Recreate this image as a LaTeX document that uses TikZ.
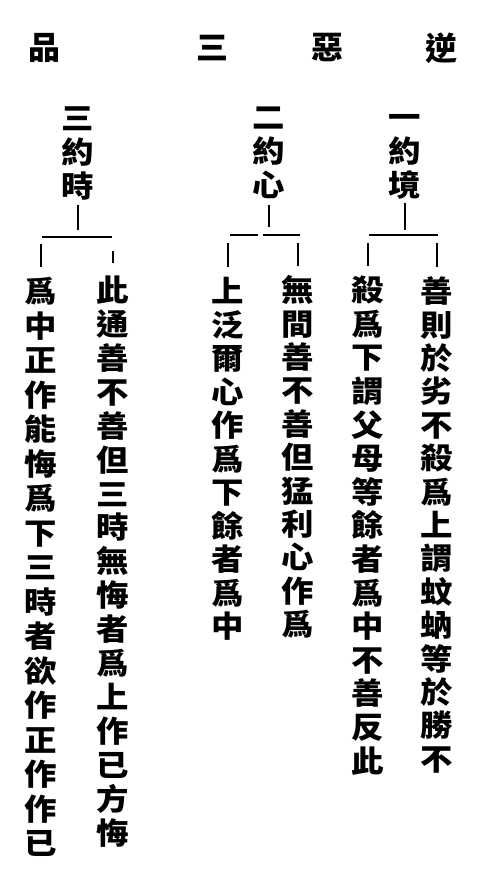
\documentclass[tikz,border=0pt]{standalone}
\usepackage{fontspec}
\newfontfamily\cjk{Noto Sans CJK TC}[FakeStretch=1.08, BoldFont={Noto Sans CJK TC Black}]
\newfontfamily\cjkt{Noto Sans CJK TC}[BoldFont={Noto Sans CJK TC Black}]
\newcommand\cjktop{\rule{0pt}{0.88em}}
\begin{document}
\begin{tikzpicture}[x=1pt,y=-1pt,
  ttl/.style={font=\cjkt\bfseries\fontsize{32}{32}\selectfont, inner sep=0pt},
  col/.style={font=\cjk\bfseries\fontsize{30}{#1}\selectfont, inner sep=0pt, anchor=north, align=center},
  col/.default=33.6,
  ln/.style={line width=1.8pt},
  bar/.style={line width=1.4pt}]
\useasboundingbox[fill=white] (0,0) rectangle (477,888);
% title
\node[ttl] (t1) at (441,48) {逆};
\node[ttl] (t2) at (327,48) {惡};
\node[ttl] (t3) at (212,48) {三};
\node[ttl] (t4) at (44,48) {品};
% headers
\node[col=34] (h1) at (405,102) {\cjktop 一\\約\\境};
\node[col=34] (h2) at (269,102) {\cjktop 二\\約\\心};
\node[col=34] (h3) at (78,103) {\cjktop 三\\約\\時};
% columns
\node[col=33.4] (cA) at (437,276) {\cjktop 善\\則\\於\\劣\\不\\殺\\爲\\上\\謂\\蚊\\蚋\\等\\於\\勝\\不};
\node[col=33.6] (cB) at (368,275) {\cjktop 殺\\爲\\下\\謂\\父\\母\\等\\餘\\者\\爲\\中\\不\\善\\反\\此};
\node[col=33.4] (cC) at (298,275) {\cjktop 無\\間\\善\\不\\善\\但\\猛\\利\\心\\作\\爲};
\node[col=33.5] (cD) at (228,276) {\cjktop 上\\泛\\爾\\心\\作\\爲\\下\\餘\\者\\爲\\中};
\node[col=33.9] (cE) at (113,275) {\cjktop 此\\通\\善\\不\\善\\但\\三\\時\\無\\悔\\者\\爲\\上\\作\\已\\方\\悔};
\node[col=34.5] (cF) at (41,276) {\cjktop 爲\\中\\正\\作\\能\\悔\\爲\\下\\三\\時\\者\\欲\\作\\正\\作\\作\\已};
% bar coordinates
\coordinate (b1L) at (369,235);
\coordinate (b1R) at (438,235);
\coordinate (b2L) at (230,235);
\coordinate (b2M) at (258,235);
\coordinate (b2N) at (263,235);
\coordinate (b2R) at (300,235);
\coordinate (b3L) at (42,237);
\coordinate (b3R) at (112,237);
% stems
\draw[ln, shorten <=3pt, shorten >=5pt] (h1.south) -- (h1.south |- b1L);
\draw[ln, shorten <=6pt, shorten >=8pt] (h2.south) -- (h2.south |- b2L);
\draw[ln, shorten <=4pt, shorten >=7pt] (h3.south) -- (h3.south |- b3L);
% bars
\draw[bar] (b1L) -- (b1R);
\draw[bar] (b2L) -- (b2M);
\draw[bar] (b2N) -- (b2R);
\draw[bar] (b3L) -- (b3R);
% ticks
\draw[ln, shorten <=8pt, shorten >=9pt] (cA.north |- b1R) -- (cA.north);
\draw[ln, shorten <=8pt, shorten >=9pt] (cB.north |- b1L) -- (cB.north);
\draw[ln, shorten <=8pt, shorten >=9pt] (cC.north |- b2R) -- (cC.north);
\draw[ln, shorten <=8pt, shorten >=9pt] (cD.north |- b2L) -- (cD.north);
\draw[ln, shorten <=14pt, shorten >=12pt] (cE.north |- b3R) -- (cE.north);
\draw[ln, shorten <=7pt, shorten >=9pt] (cF.north |- b3L) -- (cF.north);
\end{tikzpicture}
\end{document}
